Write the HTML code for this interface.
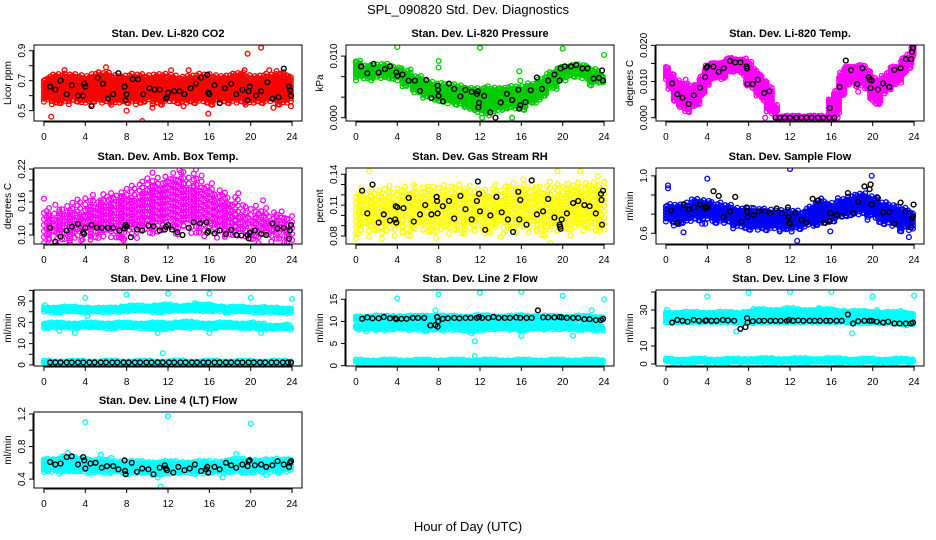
<!DOCTYPE html>
<html><head><meta charset="utf-8"><title>SPL_090820 Std. Dev. Diagnostics</title>
<style>
html,body{margin:0;padding:0;background:#fff;}
svg{display:block;font-family:"Liberation Sans",Arial,sans-serif;}
.t{font-size:11px;font-weight:bold;text-anchor:middle;}
.tk{font-size:10px;text-anchor:middle;}
.yl{font-size:10px;text-anchor:middle;}
</style></head>
<body>
<svg id="chart" width="936" height="540" viewBox="0 0 936 540">
<text x="468" y="14" style="font-size:13px;text-anchor:middle">SPL_090820  Std. Dev. Diagnostics</text>
<text x="468" y="531" style="font-size:13px;text-anchor:middle">Hour of Day (UTC)</text>
</svg>
<script>
// ---- shared ----
const xTicks = [0,4,8,12,16,20,24];

// ---- Panel 1: CO2 ----
const co2Lo = [0.57,0.56,0.56,0.57,0.56,0.57,0.56,0.56,0.56,0.56,0.57,0.56,0.57,0.57,0.56,0.57,0.56,0.57,0.57,0.57,0.56,0.57,0.57,0.56,0.57];
const co2Hi = [0.70,0.73,0.72,0.72,0.72,0.73,0.73,0.72,0.72,0.72,0.72,0.73,0.72,0.71,0.72,0.72,0.72,0.72,0.72,0.73,0.72,0.72,0.72,0.74,0.72];
const co2Out = [[0.7,0.46],[9.5,0.43],[19.7,0.88],[21,0.92],[6,0.79],[14,0.77],[22.2,0.52],[15.9,0.48],[2,0.77],[12.3,0.77],[21.8,0.77],[4.6,0.54],[8,0.5],[13.5,0.53],[23.9,0.53],[10.5,0.52],[19.4,0.77]];
const co2Black = [[0.6,0.66],[1.1,0.64],[1.6,0.7],[2.2,0.61],[2.7,0.67],[3.3,0.6],[3.8,0.6],[3.9,0.68],[4.0,0.66],[4.6,0.53],[5.2,0.72],[5.7,0.68],[6.2,0.58],[6.7,0.61],[7.2,0.75],[7.8,0.66],[7.9,0.57],[8.0,0.61],[8.6,0.71],[9.1,0.71],[9.6,0.61],[10.2,0.65],[10.7,0.64],[11.2,0.64],[11.8,0.58],[11.9,0.59],[12,0.62],[12.6,0.63],[13.1,0.63],[13.6,0.61],[14.2,0.65],[14.7,0.68],[15.2,0.72],[15.8,0.74],[15.9,0.62],[16.0,0.61],[16.5,0.67],[17.0,0.55],[17.5,0.65],[18.1,0.68],[18.6,0.61],[19.2,0.64],[19.7,0.57],[19.8,0.63],[19.9,0.66],[20.5,0.6],[21,0.63],[21.6,0.69],[22.1,0.58],[22.7,0.59],[23.2,0.78],[23.7,0.66],[23.8,0.64],[23.9,0.6]];

// ---- Panel 2: Pressure ----
const presLo = [0.0098,0.0097,0.0097,0.0100,0.0095,0.0080,0.0065,0.0050,0.0045,0.0040,0.0035,0.0025,0.0015,0.0012,0.0020,0.0025,0.0025,0.0035,0.0050,0.0075,0.0095,0.0105,0.0100,0.0085,0.0085];
const presHi = [0.0135,0.0125,0.0122,0.0125,0.0120,0.0110,0.0095,0.0085,0.0080,0.0075,0.0075,0.0070,0.0065,0.0070,0.0070,0.0070,0.0070,0.0080,0.0090,0.0105,0.0120,0.0125,0.0122,0.0115,0.0100];
const presOut = [[4,0.0172],[12,0.0170],[20,0.0168],[24,0.0153],[8,0.0138],[8,0.0122],[15.8,0.0113],[15.9,0.0090],[12.2,0.0],[15.1,0.0],[0,0.0137]];
const presBlack = [[0.5,0.0125],[1.1,0.0108],[1.7,0.0131],[2.2,0.011],[2.8,0.0118],[3.3,0.0125],[3.9,0.011],[4,0.0102],[4.5,0.0105],[5.1,0.009],[5.7,0.009],[6.2,0.0065],[6.8,0.0092],[7.3,0.0048],[7.9,0.0078],[7.95,0.0068],[8,0.0053],[8.4,0.004],[9.0,0.0083],[9.5,0.007],[10.1,0.0052],[10.6,0.0068],[11.2,0.0063],[11.7,0.0058],[11.8,0.0064],[11.9,0.0036],[11.85,0.0025],[12.4,0.0053],[13,0.0013],[13.5,0.0],[14,0.0037],[14.6,0.0058],[15.1,0.0043],[15.7,0.0068],[15.8,0.0022],[15.9,0.0030],[16.4,0.0038],[16.9,0.0067],[17.5,0.0098],[18,0.007],[18.6,0.009],[19.2,0.0105],[19.8,0.012],[19.7,0.009],[20.2,0.0125],[20.8,0.0125],[21.3,0.0128],[21.9,0.012],[22.4,0.012],[23.0,0.0095],[23.5,0.0097],[23.8,0.0115],[23.9,0.009]];

// ---- Panel 3: Temp (half-hourly) ----
const tempLo = [0.011,0.008,0.005,0.003,0.002,0.003,0.004,0.006,0.009,0.011,0.011,0.011,0.013,0.013,0.013,0.012,0.009,0.008,0.006,0.005,0.002,0.001,0,0,0,0,0,0,0,0,0,0,0,0.001,0.006,0.009,0.010,0.009,0.009,0.008,0.005,0.004,0.007,0.008,0.009,0.010,0.012,0.014,0.017];
const tempHi = [0.014,0.012,0.010,0.009,0.009,0.008,0.009,0.011,0.014,0.015,0.015,0.015,0.016,0.016,0.016,0.016,0.015,0.013,0.012,0.010,0.008,0.003,0,0,0,0,0,0,0,0,0,0,0.005,0.007,0.012,0.014,0.014,0.014,0.014,0.013,0.011,0.010,0.011,0.012,0.014,0.014,0.016,0.017,0.020];
const tempOut = [[1.9,0.0105],[9.6,0],[18.6,0.0072],[16.6,0]];
const tempBlack = [[0.6,0.0095],[1.1,0.0065],[1.6,0.0055],[2.2,0.0038],[2.7,0.0062],[3.3,0.0083],[3.8,0.0112],[3.9,0.0138],[4,0.0142],[4.6,0.0141],[5.1,0.0127],[5.6,0.0137],[6.2,0.0157],[6.7,0.0153],[7.2,0.0153],[7.8,0.0142],[7.85,0.0136],[7.9,0.0093],[8.4,0.0093],[8.9,0.0105],[9.5,0.0068],[10,0.0073],[10.6,0],[11,0],[11.5,0],[12,0],[12.6,0],[13.1,0],[13.6,0],[14.1,0],[14.7,0],[15.2,0],[15.8,0],[15.85,0.0027],[16.3,0],[16.8,0.0085],[17.4,0.0158],[17.9,0.0132],[18.5,0.0093],[19,0.0137],[19.6,0.0112],[19.7,0.0105],[19.8,0.0082],[19.9,0.0103],[20.5,0.0078],[21,0.0095],[21.6,0.0085],[22.1,0.0132],[22.7,0.0137],[23.2,0.0162],[23.7,0.0162],[23.8,0.0182],[23.9,0.0193]];

// ---- Panel 4: Amb. Box Temp ----
const boxLo = [0.095,0.09,0.095,0.095,0.10,0.10,0.10,0.10,0.105,0.105,0.11,0.11,0.115,0.115,0.115,0.11,0.11,0.105,0.105,0.10,0.10,0.10,0.095,0.095,0.095];
const boxHi = [0.14,0.14,0.145,0.15,0.155,0.16,0.165,0.17,0.175,0.18,0.19,0.195,0.20,0.205,0.20,0.195,0.185,0.175,0.16,0.15,0.14,0.14,0.135,0.135,0.12];
const boxOut = [[0,0.166],[1.1,0.155],[6.1,0.17],[18.8,0.176],[21.2,0.163],[14.7,0.219],[13.1,0.218],[10.5,0.213],[0.5,0.091],[3.6,0.09],[7.7,0.09]];
const boxBlack = [[0.6,0.113],[1.1,0.088],[1.6,0.097],[2.2,0.108],[2.7,0.115],[3.3,0.12],[3.8,0.105],[3.9,0.102],[4,0.113],[4.6,0.118],[5.1,0.113],[5.6,0.113],[6.2,0.113],[6.7,0.113],[7.3,0.108],[7.8,0.112],[7.9,0.118],[8.0,0.115],[8.4,0.096],[9.0,0.11],[9.5,0.108],[10.1,0.117],[10.6,0.116],[11.2,0.108],[11.7,0.11],[11.8,0.115],[12,0.118],[12.4,0.11],[12.9,0.105],[13.4,0.1],[14,0.113],[14.5,0.123],[15.1,0.121],[15.7,0.123],[15.8,0.104],[15.9,0.107],[16.5,0.103],[17,0.108],[17.6,0.102],[18.1,0.109],[18.6,0.1],[19.1,0.099],[19.7,0.1],[19.8,0.094],[19.9,0.104],[20.4,0.108],[21,0.102],[21.5,0.1],[22.1,0.121],[22.6,0.112],[23.2,0.113],[23.7,0.093],[23.8,0.108],[23.9,0.118]];

// ---- Panel 5: Gas Stream RH ----
const rhLo = [0.084,0.085,0.086,0.085,0.085,0.086,0.088,0.087,0.086,0.086,0.087,0.088,0.087,0.086,0.087,0.088,0.088,0.087,0.086,0.086,0.087,0.088,0.087,0.088,0.088];
const rhHi = [0.118,0.122,0.120,0.121,0.120,0.121,0.123,0.124,0.122,0.122,0.123,0.124,0.122,0.121,0.122,0.124,0.125,0.126,0.124,0.125,0.124,0.127,0.128,0.128,0.125];
const rhOut = [[1.3,0.143],[19.5,0.143],[21.7,0.143],[18.8,0.073],[0.2,0.082],[14,0.079],[1.6,0.13],[5.6,0.13],[7.0,0.128],[16.2,0.135],[23.4,0.138]];
const rhBlack = [[0.6,0.124],[1.1,0.102],[1.6,0.13],[2.2,0.093],[2.7,0.101],[3.3,0.095],[3.8,0.096],[3.85,0.109],[3.9,0.093],[4,0.108],[4.6,0.107],[5.1,0.117],[5.6,0.094],[6.2,0.101],[6.7,0.11],[7.3,0.101],[7.8,0.118],[7.85,0.114],[7.9,0.102],[8.4,0.109],[9,0.114],[9.5,0.097],[10.1,0.119],[10.6,0.106],[11.2,0.096],[11.7,0.114],[11.8,0.133],[11.9,0.121],[12,0.104],[12.5,0.086],[13,0.1],[13.6,0.118],[14.1,0.103],[14.7,0.096],[15.2,0.084],[15.7,0.123],[15.8,0.096],[15.9,0.115],[16.5,0.091],[17,0.134],[17.5,0.101],[18.1,0.104],[18.6,0.116],[19.2,0.098],[19.7,0.091],[19.75,0.089],[19.8,0.087],[19.9,0.096],[20.4,0.102],[21,0.112],[21.5,0.114],[22.1,0.11],[22.6,0.109],[23.2,0.102],[23.7,0.121],[23.75,0.115],[23.8,0.091],[23.9,0.124]];

// ---- Panel 6: Sample Flow ----
const sfLo = [0.74,0.70,0.74,0.76,0.76,0.73,0.72,0.68,0.66,0.66,0.66,0.66,0.64,0.66,0.70,0.72,0.74,0.78,0.80,0.82,0.78,0.72,0.70,0.66,0.66];
const sfHi = [0.88,0.88,0.88,0.92,0.92,0.88,0.86,0.84,0.84,0.82,0.82,0.82,0.80,0.80,0.86,0.92,0.88,0.94,0.96,0.98,0.96,0.90,0.86,0.84,0.80];
const sfOut = [[0.2,1.1],[0.2,1.07],[1.7,0.61],[4,1.17],[12,1.27],[12.7,0.52],[19.9,1.2],[23.5,0.56],[3.5,0.7],[3.8,0.7],[11,0.62],[15.9,0.62]];
const sfBlack = [[0.5,0.84],[1.1,0.71],[1.7,0.9],[2.2,0.85],[2.7,0.87],[3.3,0.9],[3.8,0.86],[3.9,0.88],[4,0.87],[4.6,1.04],[5.1,0.99],[5.6,0.77],[6.2,0.83],[6.7,0.98],[7.3,0.72],[7.8,0.87],[7.85,0.83],[7.9,0.77],[8.5,0.79],[9,0.83],[9.6,0.83],[10.1,0.81],[10.7,0.86],[11.2,0.81],[11.8,0.87],[11.85,0.77],[11.9,0.71],[12,0.7],[12.5,0.81],[13.1,0.74],[13.6,0.71],[14.2,0.96],[14.7,0.94],[15.3,0.71],[15.8,0.72],[15.85,0.73],[15.9,0.81],[16.5,0.79],[17,0.78],[17.6,1.02],[18.1,0.81],[18.6,0.93],[19.2,1.09],[19.7,1.06],[19.8,1.11],[19.9,0.9],[20.5,0.97],[21,0.82],[21.6,0.82],[22.1,0.70],[22.7,0.92],[23.2,0.83],[23.7,0.66],[23.8,0.76],[23.9,0.78],[23.95,0.9]];

// ---- Panel 7: Line 1 Flow ----
const l1UpLo = [25,25,25,25,24.5,25,25,25,25,25.5,25.5,25,25,25.5,25.5,25.5,25.5,25.5,25,25,25,25,25,24.5,24.5];
const l1UpHi = [27,27,27,27,27,26.5,26.5,27,27.5,27.5,27.5,28,28,27.5,28,28,28,27.5,27,27,27,27,26.5,26.5,26.5];
const l1MidLo = [17.5,17.5,17.5,17.5,18,17.5,17.5,17.5,17.5,17.5,17.5,17,17,17.5,17.5,17.5,17.5,17.5,17.5,17.5,17.5,17,17,17,17];
const l1MidHi = [19.5,19.5,19.5,19.5,19.5,19.5,19.5,19.5,19.5,19.5,19.5,19.5,19.5,20,20,19.5,19.5,19.5,19.5,19.5,19.5,19,18.5,18.5,18.5];
const l1BotLo = [0.8,0.8,0.8,0.8,0.8,0.8,0.8,0.8,0.8,0.8,0.8,0.8,0.8,0.8,0.8,0.8,0.8,0.8,0.8,0.8,0.8,0.8,0.8,0.8,0.8];
const l1BotHi = [1.6,1.6,1.6,1.6,1.6,1.6,1.6,1.6,1.6,1.6,1.6,1.6,1.6,1.6,1.6,1.6,1.6,1.6,1.6,1.6,1.6,1.6,1.6,1.6,1.6];
const l1Out = [[0.1,28],[4,31.5],[8,33],[12,33.5],[16,33.5],[20,31.5],[24,31],[11.5,5.5],[3,15],[1.5,16],[11,15],[21,15],[16,15],[4.2,23],[14.6,29]];
const l1Black = [[0.6,1.2],[1.1,1.2],[1.6,1.2],[2.2,1.2],[2.7,1.2],[3.3,1.2],[3.8,1.2],[4.4,1.2],[4.9,1.2],[5.5,1.2],[6.0,1.2],[6.6,1.2],[7.1,1.2],[7.7,1.2],[8.2,1.2],[8.8,1.2],[9.3,1.2],[9.9,1.2],[10.4,1.2],[11.0,1.2],[11.5,1.2],[12.1,1.2],[12.6,1.2],[13.2,1.2],[13.7,1.2],[14.3,1.2],[14.8,1.2],[15.4,1.2],[15.9,1.2],[16.5,1.2],[17.0,1.2],[17.6,1.2],[18.1,1.2],[18.7,1.2],[19.2,1.2],[19.8,1.2],[20.3,1.2],[20.9,1.2],[21.4,1.2],[22.0,1.2],[22.5,1.2],[23.1,1.2],[23.6,1.2],[23.9,1.2]];

// ---- Panel 8: Line 2 Flow ----
const l2UpLo = [10.3,10.3,10.3,10.3,10.3,10.3,10.3,10.2,10.2,10.3,10.3,10.3,10.3,10.3,10.3,10.3,10.3,10.3,10.3,10.3,10.2,10.2,10.2,10.2,10.2];
const l2UpHi = [11.1,11.1,11.1,11.1,11.2,11.1,11.1,11.3,11.2,11.1,11.1,11.1,11.2,11.2,11.1,11.1,11.2,11.2,11.1,11.1,11.1,11.1,11.1,11.0,11.0];
const l2MidLo = [8.2,8.2,8.2,8.2,8.3,8.2,8.2,8.0,8.0,8.2,8.2,7.8,8.0,8.2,8.3,8.3,8.0,8.3,8.3,8.3,8.3,8.2,8.1,8.0,8.0];
const l2MidHi = [9.1,9.2,9.2,9.2,9.3,9.2,9.2,9.5,9.5,9.2,9.2,9.5,9.4,9.3,9.3,9.3,9.5,9.3,9.3,9.3,9.2,9.1,9.0,8.9,8.8];
const l2BotLo = [0.5,0.5,0.5,0.5,0.5,0.5,0.5,0.5,0.5,0.5,0.5,0.5,0.5,0.5,0.5,0.5,0.5,0.5,0.5,0.5,0.5,0.5,0.5,0.5,0.5];
const l2BotHi = [1.2,1.2,1.2,1.2,1.2,1.2,1.2,1.2,1.2,1.2,1.2,1.2,1.2,1.2,1.2,1.2,1.2,1.2,1.2,1.2,1.2,1.2,1.2,1.2,1.2];
const l2Out = [[4,15.2],[8,16.1],[12,16.5],[16,16.7],[20,15.8],[24,15],[11.5,5.5],[11.5,2.2],[16,6.7],[21,6.8],[7.7,12.5],[22.8,12.5],[11.2,7.3],[1.0,7.8],[6.8,7.8]];
const l2Black = [[0.6,10.6],[1.1,10.9],[1.6,10.7],[2.2,10.7],[2.7,11.0],[3.3,10.7],[3.8,10.7],[3.9,10.5],[4.4,10.6],[4.9,10.6],[5.5,10.8],[6.0,10.8],[6.6,10.8],[7.2,9.1],[7.7,9.2],[7.85,11.0],[7.9,8.8],[7.95,10.0],[8.4,10.6],[8.9,10.7],[9.5,10.8],[10.0,10.7],[10.6,10.8],[11.1,10.8],[11.7,10.8],[11.9,11.0],[12.2,10.8],[12.8,10.8],[13.3,11.0],[13.8,10.8],[14.4,10.8],[14.9,10.8],[15.5,10.9],[15.9,10.8],[16.5,10.8],[17.0,10.8],[17.6,12.5],[18.1,10.9],[18.6,10.9],[19.2,10.9],[19.7,11.0],[19.9,10.9],[20.4,10.8],[21.0,10.8],[21.5,10.8],[22.1,10.5],[22.6,10.5],[23.2,10.3],[23.7,10.3],[23.9,10.6]];

// ---- Panel 9: Line 3 Flow ----
const l3UpLo = [26,26,26,26,26,26,26,25.5,26,26.5,27,27,27,27,26.5,27,27,26.5,26,26,26,26,26,25.5,25];
const l3UpHi = [28.5,28.5,28.5,28.5,28.5,28.5,28.5,28.5,29,30,30,30,30.5,30,30,30,30,29.5,29,29,29,28.5,28.5,28.5,28];
const l3MidLo = [23.5,23.5,23.5,23.5,23.5,23.5,23.5,23,23,23.5,23.5,23.5,23.5,23.5,23.5,23.5,23.5,23.5,23,23,23,23,23,22.5,22.5];
const l3MidHi = [24.5,24.5,24.5,24.5,24.5,24.5,24.5,24.5,24.5,24.5,24.5,24.5,24.5,24.5,24.5,24.5,24.5,24.5,24,24,24,24,24,23.5,23.5];
const l3BotLo = [1.0,1.0,1.0,1.0,1.0,1.0,1.0,1.0,1.0,1.0,1.0,1.0,1.0,1.0,1.0,1.0,1.0,1.0,1.0,1.0,1.0,1.0,1.0,1.0,1.0];
const l3BotHi = [2.5,2.5,2.5,2.5,2.5,2.5,2.5,2.5,2.8,2.8,2.8,2.8,2.8,2.8,2.8,2.8,2.8,2.8,2.5,2.5,2.5,2.5,2.5,2.5,2.5];
const l3Out = [[0.1,30],[4,37.5],[8,39.5],[12,40],[16,40],[20,37.5],[24,38],[6.8,18],[18,17],[12.3,31],[14.8,31],[22.7,29.5],[20.4,30],[23.3,21.5]];
const l3Black = [[0.6,23],[1.1,24.5],[1.6,24],[2.1,23.5],[2.7,24.5],[3.2,24],[3.8,24],[3.9,24.2],[4.4,24],[4.9,24],[5.5,24.5],[6.0,24.2],[6.6,24],[7.2,19.5],[7.7,20.5],[7.85,25.5],[7.9,23],[8.4,23.8],[9.0,24],[9.5,24],[10.1,24],[10.6,24],[11.1,24],[11.7,24],[11.9,24.5],[12.3,24],[12.8,24.2],[13.3,24],[13.9,24],[14.4,24],[14.9,24],[15.5,24],[15.9,24],[16.5,24],[17.0,24],[17.6,27.5],[18.1,22.5],[18.6,23.8],[19.2,24],[19.7,24],[19.9,24],[20.4,23.5],[21.0,23],[21.5,23.5],[22.1,22.5],[22.6,22.5],[23.2,22.5],[23.7,22.5],[23.9,23]];

// ---- Panel 10: Line 4 (LT) Flow ----
const l4Lo = [0.50,0.50,0.49,0.50,0.50,0.49,0.49,0.49,0.48,0.48,0.48,0.47,0.47,0.48,0.48,0.48,0.48,0.48,0.49,0.49,0.49,0.50,0.50,0.50,0.50];
const l4Hi = [0.64,0.64,0.66,0.65,0.64,0.62,0.62,0.61,0.60,0.60,0.60,0.60,0.60,0.60,0.60,0.60,0.60,0.61,0.62,0.63,0.63,0.62,0.62,0.63,0.64];
const l4Out = [[4,1.1],[12,1.17],[20,1.08],[11.3,0.31],[5.5,0.7],[6.5,0.66],[18.6,0.71],[2.3,0.72],[11.0,0.42],[17.3,0.42],[21.5,0.45],[4.3,0.47]];
const l4Black = [[0.6,0.61],[1.1,0.58],[1.6,0.59],[2.2,0.67],[2.7,0.68],[3.3,0.58],[3.8,0.67],[3.9,0.63],[4.0,0.53],[4.5,0.59],[5.0,0.6],[5.6,0.54],[6.1,0.56],[6.7,0.56],[7.2,0.52],[7.8,0.63],[7.85,0.5],[7.9,0.46],[8.5,0.6],[9.0,0.49],[9.5,0.53],[10.1,0.52],[10.6,0.46],[11.2,0.54],[11.7,0.57],[11.8,0.53],[11.9,0.51],[12.5,0.48],[13.0,0.55],[13.6,0.51],[14.1,0.53],[14.6,0.58],[15.2,0.5],[15.7,0.52],[15.8,0.55],[15.9,0.48],[16.5,0.55],[17.0,0.52],[17.6,0.6],[18.1,0.57],[18.6,0.54],[19.2,0.58],[19.7,0.56],[19.8,0.62],[19.9,0.63],[20.4,0.57],[21.0,0.58],[21.5,0.55],[22.1,0.57],[22.6,0.62],[23.2,0.58],[23.7,0.55],[23.8,0.6],[23.9,0.62]];

// ---- panel configuration (layout + refs) ----
const COLX = [34,346,656], ROWY = [45,168,290,412], PW = 268, PH = 76;
const panels = [
 {name:'co2',title:'Stan. Dev. Li-820 CO2',ylab:'Licor ppm',col:0,row:0,color:'#ff0000',ymin:0.431,ymax:0.938,ticks:[0.5,0.6,0.7,0.8,0.9],labels:['0.5','0.7','0.9'],bands:[[co2Lo,co2Hi]],step:1,dx:0.13,dy:3,rag:4,out:co2Out,black:co2Black},
 {name:'pressure',title:'Stan. Dev. Li-820 Pressure',ylab:'kPa',col:1,row:0,color:'#00cc00',ymin:-0.0008,ymax:0.0177,ticks:[0,0.005,0.01,0.015],labels:['0.000','0.010'],bands:[[presLo,presHi]],step:1,dx:0.13,dy:3,rag:3,out:presOut,black:presBlack},
 {name:'temp',title:'Stan. Dev. Li-820 Temp.',ylab:'degrees C',col:2,row:0,color:'#ff00ff',ymin:-0.0009,ymax:0.0201,ticks:[0,0.005,0.01,0.015,0.02],labels:['0.000','0.010','0.020'],bands:[[tempLo,tempHi]],step:0.5,dx:0.1,dy:3,rag:2,out:tempOut,black:tempBlack},
 {name:'amb-box-temp',title:'Stan. Dev. Amb. Box Temp.',ylab:'degrees C',col:0,row:1,color:'#ff00ff',ymin:0.0836,ymax:0.2218,ticks:[0.10,0.12,0.14,0.16,0.18,0.20,0.22],labels:['0.10','0.16','0.22'],bands:[[boxLo,boxHi]],step:1,dx:0.25,dy:6,rag:8,out:boxOut,black:boxBlack},
 {name:'gas-stream-rh',title:'Stan. Dev. Gas Stream RH',ylab:'percent',col:1,row:1,color:'#ffff00',ymin:0.0722,ymax:0.1461,ticks:[0.08,0.09,0.10,0.11,0.12,0.13,0.14],labels:['0.08','0.11','0.14'],bands:[[rhLo,rhHi]],step:1,dx:0.25,dy:6,rag:8,out:rhOut,black:rhBlack},
 {name:'sample-flow',title:'Stan. Dev. Sample Flow',ylab:'ml/min',col:2,row:1,color:'#0000ff',ymin:0.488,ymax:1.282,ticks:[0.6,0.8,1.0,1.2],labels:['0.6','1.0'],bands:[[sfLo,sfHi]],step:1,dx:0.13,dy:3,rag:4,out:sfOut,black:sfBlack},
 {name:'line1-flow',title:'Stan. Dev. Line 1 Flow',ylab:'ml/min',col:0,row:2,color:'#00ffff',ymin:-0.5,ymax:35.2,ticks:[0,5,10,15,20,25,30,35],labels:['0','10','20','30'],bands:[[l1UpLo,l1UpHi],[l1MidLo,l1MidHi],[l1BotLo,l1BotHi]],step:1,dx:0.13,dy:2,rag:1,out:l1Out,black:l1Black},
 {name:'line2-flow',title:'Stan. Dev. Line 2 Flow',ylab:'ml/min',col:1,row:2,color:'#00ffff',ymin:-0.07,ymax:17.1,ticks:[0,5,10,15],labels:['0','5','10','15'],bands:[[l2UpLo,l2UpHi],[l2MidLo,l2MidHi],[l2BotLo,l2BotHi]],step:1,dx:0.13,dy:2,rag:1,out:l2Out,black:l2Black},
 {name:'line3-flow',title:'Stan. Dev. Line 3 Flow',ylab:'ml/min',col:2,row:2,color:'#00ffff',ymin:-1.1,ymax:41.1,ticks:[0,10,20,30,40],labels:['0','10','','30',''],bands:[[l3UpLo,l3UpHi],[l3MidLo,l3MidHi],[l3BotLo,l3BotHi]],step:1,dx:0.13,dy:2,rag:1,out:l3Out,black:l3Black},
 {name:'line4-flow',title:'Stan. Dev. Line 4 (LT) Flow',ylab:'ml/min',col:0,row:3,color:'#00ffff',ymin:0.291,ymax:1.224,ticks:[0.4,0.6,0.8,1.0,1.2],labels:['0.4','','0.8','','1.2'],bands:[[l4Lo,l4Hi]],step:1,dx:0.13,dy:2.5,rag:2,out:l4Out,black:l4Black}
];

const NS = 'http://www.w3.org/2000/svg';
const svg = document.getElementById('chart');
function mk(tag, attrs, parent){ const e=document.createElementNS(NS,tag); for(const k in attrs) e.setAttribute(k,attrs[k]); (parent||svg).appendChild(e); return e; }
const R = 2.4;
const RAGGED = [0,0.6,-0.4,1,-0.8,0.3,-1,0.8,-0.2,0.5,-0.6,0.9,-0.3]; // edge raggedness pattern (rendering only)
function circ(x,y){ return 'M'+(x-R).toFixed(1)+' '+y.toFixed(1)+'a'+R+' '+R+' 0 1 0 '+(2*R)+' 0a'+R+' '+R+' 0 1 0 '+(-2*R)+' 0'; }

panels.forEach((p,pi)=>{
  const L=COLX[p.col], T=ROWY[p.row], B=T+PH;
  const xs = h => L + (h+0.96)/25.92*PW;
  const ys = v => B - (v-p.ymin)/(p.ymax-p.ymin)*PH;
  const g = mk('g',{});
  
  
  const cp = mk('clipPath',{id:'cp'+pi},g); mk('rect',{x:L,y:T,width:PW,height:PH},cp);
  const t = mk('text',{x:L+PW/2,y:T-8,class:'t'},g); t.textContent=p.title;
  
  
  const yt = mk('text',{x:0,y:0,class:'yl',transform:'translate('+(L-23)+','+(T+PH/2)+') rotate(-90)'},g); yt.textContent=p.ylab;
  
  
  const pg = mk('g',{'clip-path':'url(#cp'+pi+')'},g);
  let d='';
  let col=0;
  p.bands.forEach(([lo,hi])=>{
    lo.forEach((lv,i)=>{
      const hv=hi[i], c=i*p.step;
      for(let x=Math.max(0,c-p.step/2); x<Math.min(24,c+p.step/2)+1e-9; x+=p.dx, col++){
        const r1=RAGGED[col%RAGGED.length]*p.rag, r2=RAGGED[(col*5+3)%RAGGED.length]*p.rag;
        const y0=ys(hv)-r1, y1=ys(lv)+r2;
        const off=(col%2)*p.dy/2;
        for(let y=y0+off; y<=y1+0.01; y+=p.dy) d+=circ(xs(x),y);
        if(y1-y0<p.dy) d+=circ(xs(x),y1);
      }
    });
  });
  p.out.forEach(([h,v])=>{ d+=circ(xs(h),ys(v)); });
  const cloud = mk('path',{d:d,fill:'none',stroke:p.color,'stroke-width':1.3},pg);
  
  
  let db='';
  p.black.forEach(([h,v])=>{ db+=circ(xs(h),ys(v)); });
  const bl = mk('path',{d:db,fill:'none',stroke:'#000','stroke-width':1.4},pg);
  
  
  const box = mk('rect',{x:L,y:T,width:PW,height:PH,fill:'none',stroke:'#000','stroke-width':1},g);
  
  
  const xa = mk('g',{},g);
  
  
  mk('line',{x1:xs(0),x2:xs(24),y1:B+1,y2:B+1,stroke:'#000'},xa);
  xTicks.forEach(h=>{
    mk('line',{x1:xs(h),x2:xs(h),y1:B,y2:B+5,stroke:'#000'},xa);
    const tl=mk('text',{x:xs(h),y:B+19,class:'tk'},xa); tl.textContent=h;
  });
  const ya = mk('g',{},g);
  
  
  const tk=p.ticks;
  mk('line',{x1:L-1,x2:L-1,y1:ys(tk[0]),y2:ys(tk[tk.length-1]),stroke:'#000'},ya);
  const step = (p.labels.length===tk.length)?1:Math.round((tk.length-1)/(p.labels.length-1));
  tk.forEach((v,i)=>{
    mk('line',{x1:L-5,x2:L,y1:ys(v),y2:ys(v),stroke:'#000'},ya);
    let lab='';
    if(p.labels.length===tk.length) lab=p.labels[i]; else if(i%step===0) lab=p.labels[i/step];
    if(lab){ const yl=mk('text',{x:0,y:0,class:'tk',transform:'translate('+(L-9)+','+ys(v)+') rotate(-90)'},ya); yl.textContent=lab; }
  });
});
</script>
</body></html>
